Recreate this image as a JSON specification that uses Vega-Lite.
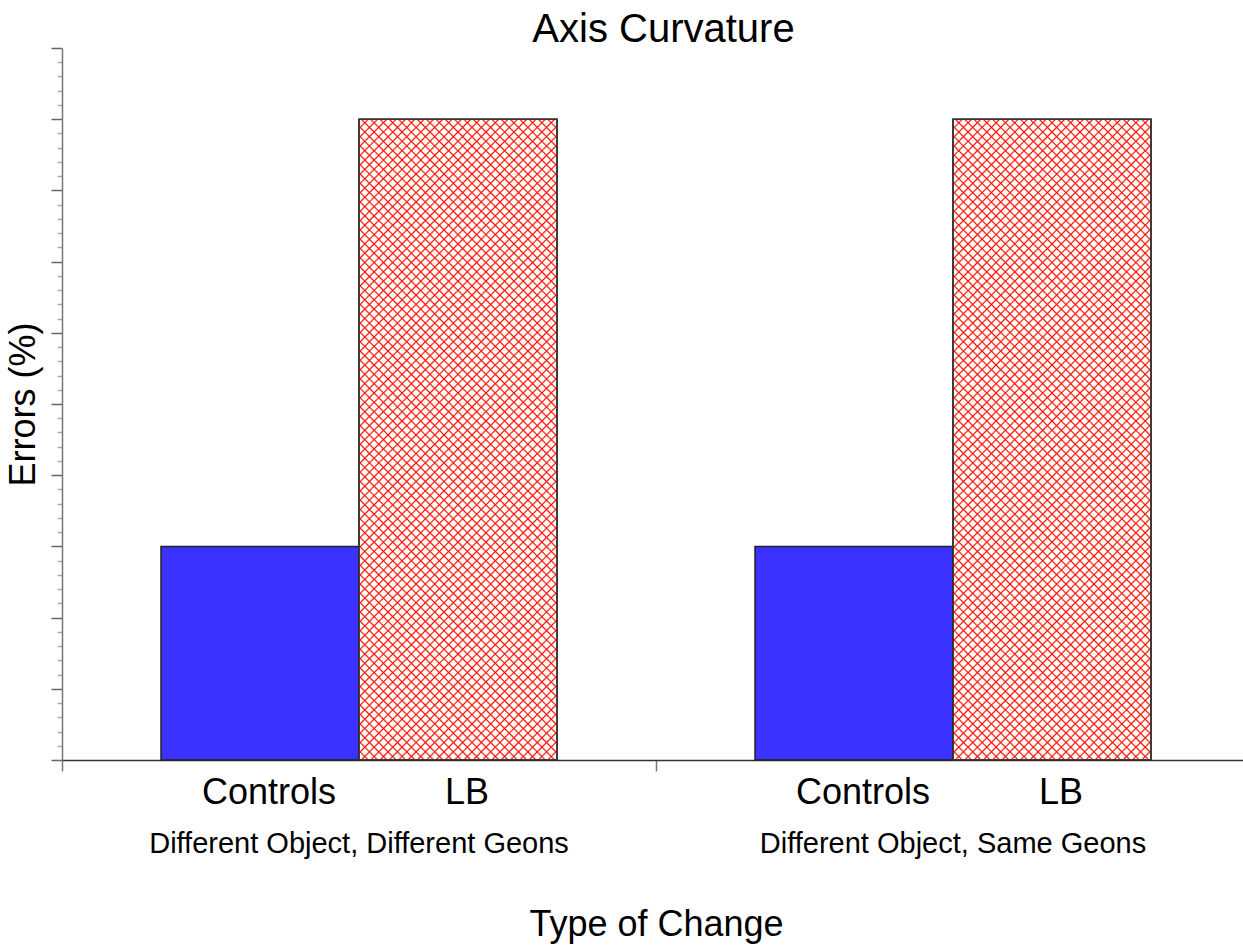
{
  "$schema": "https://vega.github.io/schema/vega-lite/v6.json",
  "width": 1181,
  "height": 712,
  "autosize": "none",
  "padding": {"left": 62, "top": 48, "right": 0, "bottom": 187},
  "background": "white",
  "config": {"view": {"stroke": null}, "font": "Liberation Sans"},
  "title": {"text": "Axis Curvature", "fontSize": 40, "font": "Liberation Sans", "fontWeight": "normal", "color": "black", "anchor": "middle", "frame": "group", "dx": 11, "dy": 40, "offset": 5, "baseline": "alphabetic"},
  "data": {"values": [
    {"change": "Different Object, Different Geons", "group": "Controls", "errors": 3},
    {"change": "Different Object, Different Geons", "group": "LB", "errors": 9},
    {"change": "Different Object, Same Geons", "group": "Controls", "errors": 3},
    {"change": "Different Object, Same Geons", "group": "LB", "errors": 9}
  ]},
  "encoding": {
    "x": {"field": "change", "type": "nominal", "sort": null,
      "scale": {"range": [0, 1188], "paddingInner": 0, "paddingOuter": 0},
      "axis": {"title": "Type of Change", "titleFontSize": 36, "titleFont": "Liberation Sans", "titleFontWeight": "normal", "titleColor": "black", "titlePadding": 49,
        "labelFontSize": 29, "labelFont": "Liberation Sans", "labelColor": "black", "labelPadding": 58, "labelAngle": 0, "labelLimit": 0,
        "bandPosition": 0, "tickSize": 11, "tickColor": "#777", "tickWidth": 1.5, "domainColor": "#333", "domainWidth": 1.5}},
    "xOffset": {"field": "group", "type": "nominal", "sort": null, "scale": {"paddingInner": 0, "paddingOuter": 0.5}},
    "y": {"field": "errors", "type": "quantitative",
      "scale": {"domain": [0, 10], "nice": false},
      "axis": {"title": "Errors (%)", "titleFontSize": 36, "titleFont": "Liberation Sans", "titleFontWeight": "normal", "titleColor": "black", "titlePadding": 8,
        "labels": false, "grid": false,
        "values": [0,0.2,0.4,0.6,0.8,1,1.2,1.4,1.6,1.8,2,2.2,2.4,2.6,2.8,3,3.2,3.4,3.6,3.8,4,4.2,4.4,4.6,4.8,5,5.2,5.4,5.6,5.8,6,6.2,6.4,6.6,6.8,7,7.2,7.4,7.6,7.8,8,8.2,8.4,8.6,8.8,9,9.2,9.4,9.6,9.8,10],
        "tickSize": {"condition": {"test": "abs(datum.value - round(datum.value)) > 0.01", "value": 5}, "value": 11},
        "tickColor": {"condition": {"test": "abs(datum.value - round(datum.value)) > 0.01", "value": "#aaa"}, "value": "#666"},
        "tickWidth": 1.5, "domainColor": "#777", "domainWidth": 1.5}}
  },
  "layer": [
    {"mark": {"type": "bar", "stroke": "#222", "strokeWidth": 1.5},
     "encoding": {"color": {"field": "group", "type": "nominal", "scale": {"domain": ["Controls", "LB"], "range": ["#3c32ff", "#ffffff"]}, "legend": null}}},
    {"transform": [{"filter": "datum.group === 'LB'"}],
     "mark": {"type": "bar", "strokeWidth": 0, "fill": {"gradient": "linear", "x1": 0, "y1": 0, "x2": 0.3692, "y2": 1.1949, "stops": [
      {"offset":0.0091,"color":"#f100"},{"offset":0.0111,"color":"#f10"},{"offset":0.0131,"color":"#f100"},
      {"offset":0.0202,"color":"#f100"},{"offset":0.0222,"color":"#f10"},{"offset":0.0242,"color":"#f100"},
      {"offset":0.0313,"color":"#f100"},{"offset":0.0333,"color":"#f10"},{"offset":0.0353,"color":"#f100"},
      {"offset":0.0424,"color":"#f100"},{"offset":0.0444,"color":"#f10"},{"offset":0.0464,"color":"#f100"},
      {"offset":0.0536,"color":"#f100"},{"offset":0.0556,"color":"#f10"},{"offset":0.0576,"color":"#f100"},
      {"offset":0.0647,"color":"#f100"},{"offset":0.0667,"color":"#f10"},{"offset":0.0687,"color":"#f100"},
      {"offset":0.0758,"color":"#f100"},{"offset":0.0778,"color":"#f10"},{"offset":0.0798,"color":"#f100"},
      {"offset":0.0869,"color":"#f100"},{"offset":0.0889,"color":"#f10"},{"offset":0.0909,"color":"#f100"},
      {"offset":0.0980,"color":"#f100"},{"offset":0.1000,"color":"#f10"},{"offset":0.1020,"color":"#f100"},
      {"offset":0.1091,"color":"#f100"},{"offset":0.1111,"color":"#f10"},{"offset":0.1131,"color":"#f100"},
      {"offset":0.1202,"color":"#f100"},{"offset":0.1222,"color":"#f10"},{"offset":0.1242,"color":"#f100"},
      {"offset":0.1313,"color":"#f100"},{"offset":0.1333,"color":"#f10"},{"offset":0.1353,"color":"#f100"},
      {"offset":0.1424,"color":"#f100"},{"offset":0.1444,"color":"#f10"},{"offset":0.1464,"color":"#f100"},
      {"offset":0.1536,"color":"#f100"},{"offset":0.1556,"color":"#f10"},{"offset":0.1576,"color":"#f100"},
      {"offset":0.1647,"color":"#f100"},{"offset":0.1667,"color":"#f10"},{"offset":0.1687,"color":"#f100"},
      {"offset":0.1758,"color":"#f100"},{"offset":0.1778,"color":"#f10"},{"offset":0.1798,"color":"#f100"},
      {"offset":0.1869,"color":"#f100"},{"offset":0.1889,"color":"#f10"},{"offset":0.1909,"color":"#f100"},
      {"offset":0.1980,"color":"#f100"},{"offset":0.2000,"color":"#f10"},{"offset":0.2020,"color":"#f100"},
      {"offset":0.2091,"color":"#f100"},{"offset":0.2111,"color":"#f10"},{"offset":0.2131,"color":"#f100"},
      {"offset":0.2202,"color":"#f100"},{"offset":0.2222,"color":"#f10"},{"offset":0.2242,"color":"#f100"},
      {"offset":0.2313,"color":"#f100"},{"offset":0.2333,"color":"#f10"},{"offset":0.2353,"color":"#f100"},
      {"offset":0.2424,"color":"#f100"},{"offset":0.2444,"color":"#f10"},{"offset":0.2464,"color":"#f100"},
      {"offset":0.2536,"color":"#f100"},{"offset":0.2556,"color":"#f10"},{"offset":0.2576,"color":"#f100"},
      {"offset":0.2647,"color":"#f100"},{"offset":0.2667,"color":"#f10"},{"offset":0.2687,"color":"#f100"},
      {"offset":0.2758,"color":"#f100"},{"offset":0.2778,"color":"#f10"},{"offset":0.2798,"color":"#f100"},
      {"offset":0.2869,"color":"#f100"},{"offset":0.2889,"color":"#f10"},{"offset":0.2909,"color":"#f100"},
      {"offset":0.2980,"color":"#f100"},{"offset":0.3000,"color":"#f10"},{"offset":0.3020,"color":"#f100"},
      {"offset":0.3091,"color":"#f100"},{"offset":0.3111,"color":"#f10"},{"offset":0.3131,"color":"#f100"},
      {"offset":0.3202,"color":"#f100"},{"offset":0.3222,"color":"#f10"},{"offset":0.3242,"color":"#f100"},
      {"offset":0.3313,"color":"#f100"},{"offset":0.3333,"color":"#f10"},{"offset":0.3353,"color":"#f100"},
      {"offset":0.3424,"color":"#f100"},{"offset":0.3444,"color":"#f10"},{"offset":0.3464,"color":"#f100"},
      {"offset":0.3536,"color":"#f100"},{"offset":0.3556,"color":"#f10"},{"offset":0.3576,"color":"#f100"},
      {"offset":0.3647,"color":"#f100"},{"offset":0.3667,"color":"#f10"},{"offset":0.3687,"color":"#f100"},
      {"offset":0.3758,"color":"#f100"},{"offset":0.3778,"color":"#f10"},{"offset":0.3798,"color":"#f100"},
      {"offset":0.3869,"color":"#f100"},{"offset":0.3889,"color":"#f10"},{"offset":0.3909,"color":"#f100"},
      {"offset":0.3980,"color":"#f100"},{"offset":0.4000,"color":"#f10"},{"offset":0.4020,"color":"#f100"},
      {"offset":0.4091,"color":"#f100"},{"offset":0.4111,"color":"#f10"},{"offset":0.4131,"color":"#f100"},
      {"offset":0.4202,"color":"#f100"},{"offset":0.4222,"color":"#f10"},{"offset":0.4242,"color":"#f100"},
      {"offset":0.4313,"color":"#f100"},{"offset":0.4333,"color":"#f10"},{"offset":0.4353,"color":"#f100"},
      {"offset":0.4424,"color":"#f100"},{"offset":0.4444,"color":"#f10"},{"offset":0.4464,"color":"#f100"},
      {"offset":0.4536,"color":"#f100"},{"offset":0.4556,"color":"#f10"},{"offset":0.4576,"color":"#f100"},
      {"offset":0.4647,"color":"#f100"},{"offset":0.4667,"color":"#f10"},{"offset":0.4687,"color":"#f100"},
      {"offset":0.4758,"color":"#f100"},{"offset":0.4778,"color":"#f10"},{"offset":0.4798,"color":"#f100"},
      {"offset":0.4869,"color":"#f100"},{"offset":0.4889,"color":"#f10"},{"offset":0.4909,"color":"#f100"},
      {"offset":0.4980,"color":"#f100"},{"offset":0.5000,"color":"#f10"},{"offset":0.5020,"color":"#f100"},
      {"offset":0.5091,"color":"#f100"},{"offset":0.5111,"color":"#f10"},{"offset":0.5131,"color":"#f100"},
      {"offset":0.5202,"color":"#f100"},{"offset":0.5222,"color":"#f10"},{"offset":0.5242,"color":"#f100"},
      {"offset":0.5313,"color":"#f100"},{"offset":0.5333,"color":"#f10"},{"offset":0.5353,"color":"#f100"},
      {"offset":0.5424,"color":"#f100"},{"offset":0.5444,"color":"#f10"},{"offset":0.5464,"color":"#f100"},
      {"offset":0.5536,"color":"#f100"},{"offset":0.5556,"color":"#f10"},{"offset":0.5576,"color":"#f100"},
      {"offset":0.5647,"color":"#f100"},{"offset":0.5667,"color":"#f10"},{"offset":0.5687,"color":"#f100"},
      {"offset":0.5758,"color":"#f100"},{"offset":0.5778,"color":"#f10"},{"offset":0.5798,"color":"#f100"},
      {"offset":0.5869,"color":"#f100"},{"offset":0.5889,"color":"#f10"},{"offset":0.5909,"color":"#f100"},
      {"offset":0.5980,"color":"#f100"},{"offset":0.6000,"color":"#f10"},{"offset":0.6020,"color":"#f100"},
      {"offset":0.6091,"color":"#f100"},{"offset":0.6111,"color":"#f10"},{"offset":0.6131,"color":"#f100"},
      {"offset":0.6202,"color":"#f100"},{"offset":0.6222,"color":"#f10"},{"offset":0.6242,"color":"#f100"},
      {"offset":0.6313,"color":"#f100"},{"offset":0.6333,"color":"#f10"},{"offset":0.6353,"color":"#f100"},
      {"offset":0.6424,"color":"#f100"},{"offset":0.6444,"color":"#f10"},{"offset":0.6464,"color":"#f100"},
      {"offset":0.6536,"color":"#f100"},{"offset":0.6556,"color":"#f10"},{"offset":0.6576,"color":"#f100"},
      {"offset":0.6647,"color":"#f100"},{"offset":0.6667,"color":"#f10"},{"offset":0.6687,"color":"#f100"},
      {"offset":0.6758,"color":"#f100"},{"offset":0.6778,"color":"#f10"},{"offset":0.6798,"color":"#f100"},
      {"offset":0.6869,"color":"#f100"},{"offset":0.6889,"color":"#f10"},{"offset":0.6909,"color":"#f100"},
      {"offset":0.6980,"color":"#f100"},{"offset":0.7000,"color":"#f10"},{"offset":0.7020,"color":"#f100"},
      {"offset":0.7091,"color":"#f100"},{"offset":0.7111,"color":"#f10"},{"offset":0.7131,"color":"#f100"},
      {"offset":0.7202,"color":"#f100"},{"offset":0.7222,"color":"#f10"},{"offset":0.7242,"color":"#f100"},
      {"offset":0.7313,"color":"#f100"},{"offset":0.7333,"color":"#f10"},{"offset":0.7353,"color":"#f100"},
      {"offset":0.7424,"color":"#f100"},{"offset":0.7444,"color":"#f10"},{"offset":0.7464,"color":"#f100"},
      {"offset":0.7536,"color":"#f100"},{"offset":0.7556,"color":"#f10"},{"offset":0.7576,"color":"#f100"},
      {"offset":0.7647,"color":"#f100"},{"offset":0.7667,"color":"#f10"},{"offset":0.7687,"color":"#f100"},
      {"offset":0.7758,"color":"#f100"},{"offset":0.7778,"color":"#f10"},{"offset":0.7798,"color":"#f100"},
      {"offset":0.7869,"color":"#f100"},{"offset":0.7889,"color":"#f10"},{"offset":0.7909,"color":"#f100"},
      {"offset":0.7980,"color":"#f100"},{"offset":0.8000,"color":"#f10"},{"offset":0.8020,"color":"#f100"},
      {"offset":0.8091,"color":"#f100"},{"offset":0.8111,"color":"#f10"},{"offset":0.8131,"color":"#f100"},
      {"offset":0.8202,"color":"#f100"},{"offset":0.8222,"color":"#f10"},{"offset":0.8242,"color":"#f100"},
      {"offset":0.8313,"color":"#f100"},{"offset":0.8333,"color":"#f10"},{"offset":0.8353,"color":"#f100"},
      {"offset":0.8424,"color":"#f100"},{"offset":0.8444,"color":"#f10"},{"offset":0.8464,"color":"#f100"},
      {"offset":0.8536,"color":"#f100"},{"offset":0.8556,"color":"#f10"},{"offset":0.8576,"color":"#f100"},
      {"offset":0.8647,"color":"#f100"},{"offset":0.8667,"color":"#f10"},{"offset":0.8687,"color":"#f100"},
      {"offset":0.8758,"color":"#f100"},{"offset":0.8778,"color":"#f10"},{"offset":0.8798,"color":"#f100"},
      {"offset":0.8869,"color":"#f100"},{"offset":0.8889,"color":"#f10"},{"offset":0.8909,"color":"#f100"},
      {"offset":0.8980,"color":"#f100"},{"offset":0.9000,"color":"#f10"},{"offset":0.9020,"color":"#f100"},
      {"offset":0.9091,"color":"#f100"},{"offset":0.9111,"color":"#f10"},{"offset":0.9131,"color":"#f100"},
      {"offset":0.9202,"color":"#f100"},{"offset":0.9222,"color":"#f10"},{"offset":0.9242,"color":"#f100"},
      {"offset":0.9313,"color":"#f100"},{"offset":0.9333,"color":"#f10"},{"offset":0.9353,"color":"#f100"},
      {"offset":0.9424,"color":"#f100"},{"offset":0.9444,"color":"#f10"},{"offset":0.9464,"color":"#f100"},
      {"offset":0.9536,"color":"#f100"},{"offset":0.9556,"color":"#f10"},{"offset":0.9576,"color":"#f100"},
      {"offset":0.9647,"color":"#f100"},{"offset":0.9667,"color":"#f10"},{"offset":0.9687,"color":"#f100"},
      {"offset":0.9758,"color":"#f100"},{"offset":0.9778,"color":"#f10"},{"offset":0.9798,"color":"#f100"},
      {"offset":0.9869,"color":"#f100"},{"offset":0.9889,"color":"#f10"},{"offset":0.9909,"color":"#f100"}
     ]}}},
    {"transform": [{"filter": "datum.group === 'LB'"}],
     "mark": {"type": "bar", "strokeWidth": 0, "fill": {"gradient": "linear", "x1": 1, "y1": 0, "x2": 0.6308, "y2": 1.1949, "stops": [
      {"offset":0.0091,"color":"#f100"},{"offset":0.0111,"color":"#f10"},{"offset":0.0131,"color":"#f100"},
      {"offset":0.0202,"color":"#f100"},{"offset":0.0222,"color":"#f10"},{"offset":0.0242,"color":"#f100"},
      {"offset":0.0313,"color":"#f100"},{"offset":0.0333,"color":"#f10"},{"offset":0.0353,"color":"#f100"},
      {"offset":0.0424,"color":"#f100"},{"offset":0.0444,"color":"#f10"},{"offset":0.0464,"color":"#f100"},
      {"offset":0.0536,"color":"#f100"},{"offset":0.0556,"color":"#f10"},{"offset":0.0576,"color":"#f100"},
      {"offset":0.0647,"color":"#f100"},{"offset":0.0667,"color":"#f10"},{"offset":0.0687,"color":"#f100"},
      {"offset":0.0758,"color":"#f100"},{"offset":0.0778,"color":"#f10"},{"offset":0.0798,"color":"#f100"},
      {"offset":0.0869,"color":"#f100"},{"offset":0.0889,"color":"#f10"},{"offset":0.0909,"color":"#f100"},
      {"offset":0.0980,"color":"#f100"},{"offset":0.1000,"color":"#f10"},{"offset":0.1020,"color":"#f100"},
      {"offset":0.1091,"color":"#f100"},{"offset":0.1111,"color":"#f10"},{"offset":0.1131,"color":"#f100"},
      {"offset":0.1202,"color":"#f100"},{"offset":0.1222,"color":"#f10"},{"offset":0.1242,"color":"#f100"},
      {"offset":0.1313,"color":"#f100"},{"offset":0.1333,"color":"#f10"},{"offset":0.1353,"color":"#f100"},
      {"offset":0.1424,"color":"#f100"},{"offset":0.1444,"color":"#f10"},{"offset":0.1464,"color":"#f100"},
      {"offset":0.1536,"color":"#f100"},{"offset":0.1556,"color":"#f10"},{"offset":0.1576,"color":"#f100"},
      {"offset":0.1647,"color":"#f100"},{"offset":0.1667,"color":"#f10"},{"offset":0.1687,"color":"#f100"},
      {"offset":0.1758,"color":"#f100"},{"offset":0.1778,"color":"#f10"},{"offset":0.1798,"color":"#f100"},
      {"offset":0.1869,"color":"#f100"},{"offset":0.1889,"color":"#f10"},{"offset":0.1909,"color":"#f100"},
      {"offset":0.1980,"color":"#f100"},{"offset":0.2000,"color":"#f10"},{"offset":0.2020,"color":"#f100"},
      {"offset":0.2091,"color":"#f100"},{"offset":0.2111,"color":"#f10"},{"offset":0.2131,"color":"#f100"},
      {"offset":0.2202,"color":"#f100"},{"offset":0.2222,"color":"#f10"},{"offset":0.2242,"color":"#f100"},
      {"offset":0.2313,"color":"#f100"},{"offset":0.2333,"color":"#f10"},{"offset":0.2353,"color":"#f100"},
      {"offset":0.2424,"color":"#f100"},{"offset":0.2444,"color":"#f10"},{"offset":0.2464,"color":"#f100"},
      {"offset":0.2536,"color":"#f100"},{"offset":0.2556,"color":"#f10"},{"offset":0.2576,"color":"#f100"},
      {"offset":0.2647,"color":"#f100"},{"offset":0.2667,"color":"#f10"},{"offset":0.2687,"color":"#f100"},
      {"offset":0.2758,"color":"#f100"},{"offset":0.2778,"color":"#f10"},{"offset":0.2798,"color":"#f100"},
      {"offset":0.2869,"color":"#f100"},{"offset":0.2889,"color":"#f10"},{"offset":0.2909,"color":"#f100"},
      {"offset":0.2980,"color":"#f100"},{"offset":0.3000,"color":"#f10"},{"offset":0.3020,"color":"#f100"},
      {"offset":0.3091,"color":"#f100"},{"offset":0.3111,"color":"#f10"},{"offset":0.3131,"color":"#f100"},
      {"offset":0.3202,"color":"#f100"},{"offset":0.3222,"color":"#f10"},{"offset":0.3242,"color":"#f100"},
      {"offset":0.3313,"color":"#f100"},{"offset":0.3333,"color":"#f10"},{"offset":0.3353,"color":"#f100"},
      {"offset":0.3424,"color":"#f100"},{"offset":0.3444,"color":"#f10"},{"offset":0.3464,"color":"#f100"},
      {"offset":0.3536,"color":"#f100"},{"offset":0.3556,"color":"#f10"},{"offset":0.3576,"color":"#f100"},
      {"offset":0.3647,"color":"#f100"},{"offset":0.3667,"color":"#f10"},{"offset":0.3687,"color":"#f100"},
      {"offset":0.3758,"color":"#f100"},{"offset":0.3778,"color":"#f10"},{"offset":0.3798,"color":"#f100"},
      {"offset":0.3869,"color":"#f100"},{"offset":0.3889,"color":"#f10"},{"offset":0.3909,"color":"#f100"},
      {"offset":0.3980,"color":"#f100"},{"offset":0.4000,"color":"#f10"},{"offset":0.4020,"color":"#f100"},
      {"offset":0.4091,"color":"#f100"},{"offset":0.4111,"color":"#f10"},{"offset":0.4131,"color":"#f100"},
      {"offset":0.4202,"color":"#f100"},{"offset":0.4222,"color":"#f10"},{"offset":0.4242,"color":"#f100"},
      {"offset":0.4313,"color":"#f100"},{"offset":0.4333,"color":"#f10"},{"offset":0.4353,"color":"#f100"},
      {"offset":0.4424,"color":"#f100"},{"offset":0.4444,"color":"#f10"},{"offset":0.4464,"color":"#f100"},
      {"offset":0.4536,"color":"#f100"},{"offset":0.4556,"color":"#f10"},{"offset":0.4576,"color":"#f100"},
      {"offset":0.4647,"color":"#f100"},{"offset":0.4667,"color":"#f10"},{"offset":0.4687,"color":"#f100"},
      {"offset":0.4758,"color":"#f100"},{"offset":0.4778,"color":"#f10"},{"offset":0.4798,"color":"#f100"},
      {"offset":0.4869,"color":"#f100"},{"offset":0.4889,"color":"#f10"},{"offset":0.4909,"color":"#f100"},
      {"offset":0.4980,"color":"#f100"},{"offset":0.5000,"color":"#f10"},{"offset":0.5020,"color":"#f100"},
      {"offset":0.5091,"color":"#f100"},{"offset":0.5111,"color":"#f10"},{"offset":0.5131,"color":"#f100"},
      {"offset":0.5202,"color":"#f100"},{"offset":0.5222,"color":"#f10"},{"offset":0.5242,"color":"#f100"},
      {"offset":0.5313,"color":"#f100"},{"offset":0.5333,"color":"#f10"},{"offset":0.5353,"color":"#f100"},
      {"offset":0.5424,"color":"#f100"},{"offset":0.5444,"color":"#f10"},{"offset":0.5464,"color":"#f100"},
      {"offset":0.5536,"color":"#f100"},{"offset":0.5556,"color":"#f10"},{"offset":0.5576,"color":"#f100"},
      {"offset":0.5647,"color":"#f100"},{"offset":0.5667,"color":"#f10"},{"offset":0.5687,"color":"#f100"},
      {"offset":0.5758,"color":"#f100"},{"offset":0.5778,"color":"#f10"},{"offset":0.5798,"color":"#f100"},
      {"offset":0.5869,"color":"#f100"},{"offset":0.5889,"color":"#f10"},{"offset":0.5909,"color":"#f100"},
      {"offset":0.5980,"color":"#f100"},{"offset":0.6000,"color":"#f10"},{"offset":0.6020,"color":"#f100"},
      {"offset":0.6091,"color":"#f100"},{"offset":0.6111,"color":"#f10"},{"offset":0.6131,"color":"#f100"},
      {"offset":0.6202,"color":"#f100"},{"offset":0.6222,"color":"#f10"},{"offset":0.6242,"color":"#f100"},
      {"offset":0.6313,"color":"#f100"},{"offset":0.6333,"color":"#f10"},{"offset":0.6353,"color":"#f100"},
      {"offset":0.6424,"color":"#f100"},{"offset":0.6444,"color":"#f10"},{"offset":0.6464,"color":"#f100"},
      {"offset":0.6536,"color":"#f100"},{"offset":0.6556,"color":"#f10"},{"offset":0.6576,"color":"#f100"},
      {"offset":0.6647,"color":"#f100"},{"offset":0.6667,"color":"#f10"},{"offset":0.6687,"color":"#f100"},
      {"offset":0.6758,"color":"#f100"},{"offset":0.6778,"color":"#f10"},{"offset":0.6798,"color":"#f100"},
      {"offset":0.6869,"color":"#f100"},{"offset":0.6889,"color":"#f10"},{"offset":0.6909,"color":"#f100"},
      {"offset":0.6980,"color":"#f100"},{"offset":0.7000,"color":"#f10"},{"offset":0.7020,"color":"#f100"},
      {"offset":0.7091,"color":"#f100"},{"offset":0.7111,"color":"#f10"},{"offset":0.7131,"color":"#f100"},
      {"offset":0.7202,"color":"#f100"},{"offset":0.7222,"color":"#f10"},{"offset":0.7242,"color":"#f100"},
      {"offset":0.7313,"color":"#f100"},{"offset":0.7333,"color":"#f10"},{"offset":0.7353,"color":"#f100"},
      {"offset":0.7424,"color":"#f100"},{"offset":0.7444,"color":"#f10"},{"offset":0.7464,"color":"#f100"},
      {"offset":0.7536,"color":"#f100"},{"offset":0.7556,"color":"#f10"},{"offset":0.7576,"color":"#f100"},
      {"offset":0.7647,"color":"#f100"},{"offset":0.7667,"color":"#f10"},{"offset":0.7687,"color":"#f100"},
      {"offset":0.7758,"color":"#f100"},{"offset":0.7778,"color":"#f10"},{"offset":0.7798,"color":"#f100"},
      {"offset":0.7869,"color":"#f100"},{"offset":0.7889,"color":"#f10"},{"offset":0.7909,"color":"#f100"},
      {"offset":0.7980,"color":"#f100"},{"offset":0.8000,"color":"#f10"},{"offset":0.8020,"color":"#f100"},
      {"offset":0.8091,"color":"#f100"},{"offset":0.8111,"color":"#f10"},{"offset":0.8131,"color":"#f100"},
      {"offset":0.8202,"color":"#f100"},{"offset":0.8222,"color":"#f10"},{"offset":0.8242,"color":"#f100"},
      {"offset":0.8313,"color":"#f100"},{"offset":0.8333,"color":"#f10"},{"offset":0.8353,"color":"#f100"},
      {"offset":0.8424,"color":"#f100"},{"offset":0.8444,"color":"#f10"},{"offset":0.8464,"color":"#f100"},
      {"offset":0.8536,"color":"#f100"},{"offset":0.8556,"color":"#f10"},{"offset":0.8576,"color":"#f100"},
      {"offset":0.8647,"color":"#f100"},{"offset":0.8667,"color":"#f10"},{"offset":0.8687,"color":"#f100"},
      {"offset":0.8758,"color":"#f100"},{"offset":0.8778,"color":"#f10"},{"offset":0.8798,"color":"#f100"},
      {"offset":0.8869,"color":"#f100"},{"offset":0.8889,"color":"#f10"},{"offset":0.8909,"color":"#f100"},
      {"offset":0.8980,"color":"#f100"},{"offset":0.9000,"color":"#f10"},{"offset":0.9020,"color":"#f100"},
      {"offset":0.9091,"color":"#f100"},{"offset":0.9111,"color":"#f10"},{"offset":0.9131,"color":"#f100"},
      {"offset":0.9202,"color":"#f100"},{"offset":0.9222,"color":"#f10"},{"offset":0.9242,"color":"#f100"},
      {"offset":0.9313,"color":"#f100"},{"offset":0.9333,"color":"#f10"},{"offset":0.9353,"color":"#f100"},
      {"offset":0.9424,"color":"#f100"},{"offset":0.9444,"color":"#f10"},{"offset":0.9464,"color":"#f100"},
      {"offset":0.9536,"color":"#f100"},{"offset":0.9556,"color":"#f10"},{"offset":0.9576,"color":"#f100"},
      {"offset":0.9647,"color":"#f100"},{"offset":0.9667,"color":"#f10"},{"offset":0.9687,"color":"#f100"},
      {"offset":0.9758,"color":"#f100"},{"offset":0.9778,"color":"#f10"},{"offset":0.9798,"color":"#f100"},
      {"offset":0.9869,"color":"#f100"},{"offset":0.9889,"color":"#f10"},{"offset":0.9909,"color":"#f100"}
     ]}}},
    {"transform": [{"filter": "datum.group === 'LB'"}],
     "mark": {"type": "bar", "fill": null, "fillOpacity": 0, "stroke": "#333", "strokeWidth": 1.5}},
    {"mark": {"type": "text", "baseline": "alphabetic", "align": "center", "dx": 9, "dy": 44, "fontSize": 36, "font": "Liberation Sans", "color": "black"},
     "encoding": {"y": {"datum": 0}, "text": {"field": "group"}}}
  ]
}
